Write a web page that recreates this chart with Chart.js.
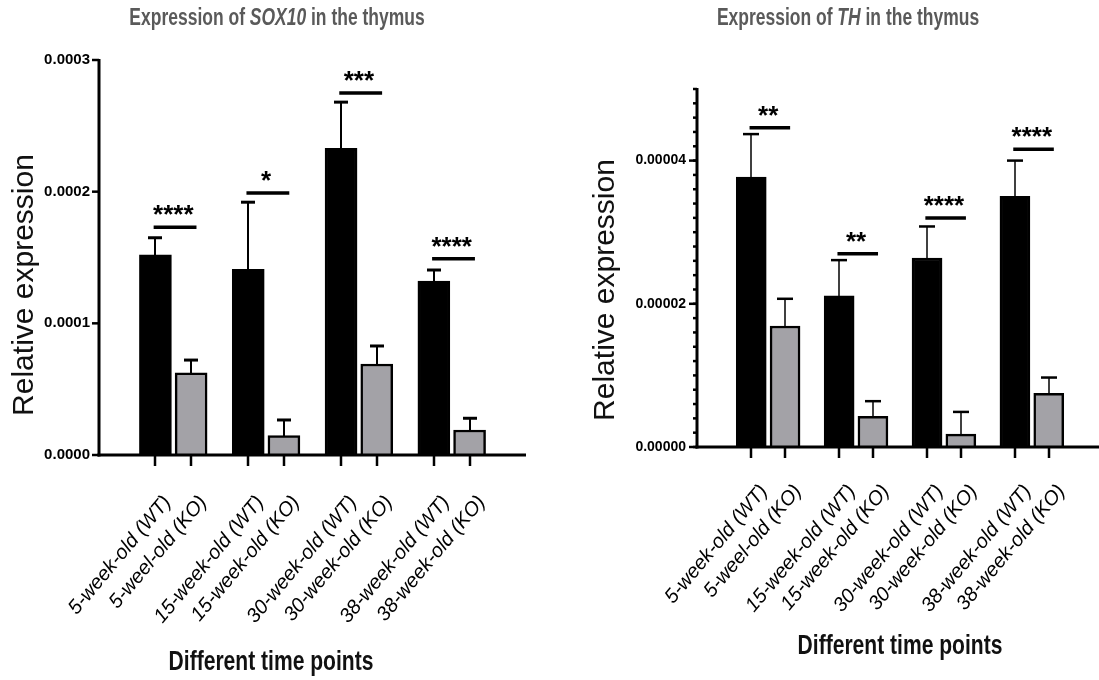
<!DOCTYPE html>
<html><head><meta charset="utf-8">
<script src="https://cdn.jsdelivr.net/npm/chart.js@4.4.1/dist/chart.umd.min.js"></script>
<style>
html,body{margin:0;padding:0;background:#fff;overflow:hidden;width:1099px;height:680px;position:relative;}
#c1{position:absolute;left:0;top:0;}
#c2{position:absolute;left:550px;top:0;}
</style></head><body>
<canvas id="c1" width="550" height="680"></canvas>
<canvas id="c2" width="560" height="680"></canvas>
<script>
// ---------- data ----------
const categories = ['5-week-old (WT)', '5-weel-old (KO)', '15-week-old (WT)', '15-week-old (KO)',
                    '30-week-old (WT)', '30-week-old (KO)', '38-week-old (WT)', '38-week-old (KO)'];

const sox10WT    = [0.000152, 0.000141, 0.000233, 0.000132];
const sox10WTerr = [0.000013, 0.000051, 0.000035, 0.0000085];
const sox10KO    = [0.0000625, 0.0000147, 0.0000691, 0.000019];
const sox10KOerr = [0.0000096, 0.0000119, 0.0000137, 0.0000089];
const sox10Sig      = ['****', '*', '***', '****'];
const sox10SigLevel = [0.000173, 0.000199, 0.000275, 0.000149];
const sox10Ticks    = [0, 0.0001, 0.0002, 0.0003];

const thWT    = [0.0000377, 0.0000211, 0.0000264, 0.000035];
const thWTerr = [0.000006, 0.000005, 0.0000044, 0.000005];
const thKO    = [0.0000169, 0.0000043, 0.0000018, 0.0000075];
const thKOerr = [0.0000038, 0.0000021, 0.0000031, 0.0000022];
const thSig      = ['**', '**', '****', '****'];
const thSigLevel = [0.0000446, 0.000027, 0.000032, 0.0000416];
const thTicks      = [0, 0.00002, 0.00004];
const thMinorTicks = [];
for (let k = 0; k <= 25; k++) thMinorTicks.push(k * 0.000002);

// ---------- layout helpers ----------
const GROUP_STEP = 2.6;
function xPos(group, member) { return group * GROUP_STEP + member; }
function tickPos(i) { return xPos(Math.floor(i / 2), i % 2); }

const FONT = '"Liberation Sans", Arial, Helvetica, sans-serif';
Chart.defaults.font.family = FONT;

function drawNarrow(ctx, parts, cx, baseline, size, color, sx, weight) {
  ctx.save();
  ctx.fillStyle = color;
  ctx.textBaseline = 'alphabetic';
  ctx.textAlign = 'left';
  let total = 0;
  const fontOf = p => (p.it ? 'italic ' : '') + weight + ' ' + size + 'px ' + FONT;
  parts.forEach(p => { ctx.font = fontOf(p); p.width = ctx.measureText(p.t).width; total += p.width; });
  ctx.translate(cx, baseline);
  ctx.scale(sx, 1);
  let x = -total / 2;
  parts.forEach(p => { ctx.font = fontOf(p); ctx.fillText(p.t, x, 0); x += p.width; });
  ctx.restore();
}

function makeDecor(d) {
  return {
    id: 'decor',
    afterDatasetsDraw(chart) {
      const ctx = chart.ctx, xs = chart.scales.x, ys = chart.scales.y, a = chart.chartArea;
      ctx.save();
      ctx.strokeStyle = '#000';
      ctx.lineCap = 'butt';
      // error bars
      [[d.wt, d.wtErr, 0], [d.ko, d.koErr, 1]].forEach(([vals, errs, m]) => {
        vals.forEach((v, g) => {
          const x = Math.round(xs.getPixelForValue(xPos(g, m)));
          const y0 = ys.getPixelForValue(v) + 1;
          const y1 = ys.getPixelForValue(v + errs[g]);
          ctx.lineWidth = d.stemW;
          ctx.beginPath(); ctx.moveTo(x, y0); ctx.lineTo(x, y1); ctx.stroke();
          ctx.lineWidth = d.capW;
          ctx.beginPath(); ctx.moveTo(x - d.capLen / 2, y1); ctx.lineTo(x + d.capLen / 2, y1); ctx.stroke();
        });
      });
      // axes
      ctx.lineWidth = 3;
      ctx.beginPath(); ctx.moveTo(a.left, a.top - 1); ctx.lineTo(a.left, a.bottom + 1.5); ctx.stroke();
      ctx.beginPath(); ctx.moveTo(a.left - 1.5, a.bottom); ctx.lineTo(a.right, a.bottom); ctx.stroke();
      // y ticks
      ctx.lineWidth = 2.5;
      if (d.minor) {
        d.minor.forEach(v => {
          const y = ys.getPixelForValue(v);
          ctx.beginPath(); ctx.moveTo(a.left - d.minorLen, y); ctx.lineTo(a.left, y); ctx.stroke();
        });
      }
      d.yTicks.forEach(v => {
        const y = ys.getPixelForValue(v);
        ctx.beginPath(); ctx.moveTo(a.left - d.majorLen, y); ctx.lineTo(a.left, y); ctx.stroke();
      });
      // x ticks
      categories.forEach((c, i) => {
        const x = Math.round(xs.getPixelForValue(tickPos(i)));
        ctx.beginPath(); ctx.moveTo(x, a.bottom); ctx.lineTo(x, a.bottom + 11); ctx.stroke();
      });
      // significance lines + stars
      d.sig.forEach((s, g) => {
        const y = ys.getPixelForValue(d.sigLevel[g]);
        const x0 = xs.getPixelForValue(xPos(g, 0) - 0.05);
        const x1 = xs.getPixelForValue(xPos(g, 1) + 0.15);
        ctx.lineWidth = 3.5;
        ctx.beginPath(); ctx.moveTo(x0, y); ctx.lineTo(x1, y); ctx.stroke();
        ctx.fillStyle = '#000';
        ctx.font = 'bold 26px ' + FONT;
        ctx.textAlign = 'center';
        ctx.textBaseline = 'alphabetic';
        const xc = (xs.getPixelForValue(xPos(g, 0)) + xs.getPixelForValue(xPos(g, 1))) / 2;
        ctx.fillText(s, xc, y - 4);
      });
      ctx.restore();
    },
    afterDraw(chart) {
      const ctx = chart.ctx;
      // chart title
      drawNarrow(ctx, d.titleParts, d.titleX, d.titleY, 23, '#5a5a5a', 0.76, 'bold');
      // x title
      drawNarrow(ctx, [{t: 'Different time points'}], d.xTitleX, d.xTitleY, 27, '#111', 0.78, 'bold');
      // y title
      ctx.save();
      ctx.translate(d.yTitleX, d.yTitleY);
      ctx.rotate(-Math.PI / 2);
      ctx.font = '30px ' + FONT;
      ctx.fillStyle = '#111';
      ctx.textAlign = 'center';
      ctx.textBaseline = 'middle';
      ctx.fillText('Relative expression', 0, 0);
      ctx.restore();
    }
  };
}

function buildChart(canvas, d) {
  return new Chart(canvas, {
    type: 'bar',
    data: {
      datasets: [
        { label: 'WT', data: d.wt.map((v, g) => ({ x: xPos(g, 0), y: v })),
          backgroundColor: '#000', borderColor: '#000', borderWidth: 2.5,
          barThickness: d.barW, grouped: false, borderSkipped: 'start' },
        { label: 'KO', data: d.ko.map((v, g) => ({ x: xPos(g, 1), y: v })),
          backgroundColor: '#a3a2a7', borderColor: '#000', borderWidth: 2.5,
          barThickness: d.barW, grouped: false, borderSkipped: 'start' }
      ]
    },
    options: {
      responsive: false, animation: false, events: [],
      layout: { padding: { top: d.area.top, left: 0, right: d.canvasW - d.area.right, bottom: 0 } },
      plugins: { legend: { display: false }, tooltip: { enabled: false }, title: { display: false } },
      scales: {
        x: {
          type: 'linear', min: d.xMin, max: d.xMax,
          grid: { display: false, drawTicks: false }, border: { display: false },
          afterBuildTicks: s => { s.ticks = categories.map((c, i) => ({ value: tickPos(i) + d.labelShift })); },
          ticks: { autoSkip: false, minRotation: 50, maxRotation: 50, padding: d.xLabelPad, color: '#000',
                   font: { size: 20, style: 'italic' }, callback: (v, i) => categories[i] },
          afterFit: s => { s.height = d.canvasH - d.area.bottom; s.paddingLeft = 0; s.paddingRight = 0; }
        },
        y: {
          type: 'linear', min: 0, max: d.yMax,
          grid: { display: false, drawTicks: false }, border: { display: false },
          afterBuildTicks: s => { s.ticks = d.yTicks.map(v => ({ value: v })); },
          ticks: { padding: d.yLabelPad, color: '#000', font: { size: d.yFont, weight: 'bold' },
                   callback: v => v.toFixed(d.dec) },
          afterFit: s => { s.width = d.area.left; s.paddingTop = 0; s.paddingBottom = 0; }
        }
      }
    },
    plugins: [makeDecor(d)]
  });
}

buildChart(document.getElementById('c1'), {
  wt: sox10WT, wtErr: sox10WTerr, ko: sox10KO, koErr: sox10KOerr,
  sig: sox10Sig, sigLevel: sox10SigLevel, yTicks: sox10Ticks, minor: null,
  yMax: 0.0003, dec: 4, yFont: 15, yLabelPad: 9, majorLen: 7, minorLen: 4,
  canvasW: 550, canvasH: 680, area: { left: 99, right: 526, top: 60, bottom: 455 },
  xMin: -0.833, xMax: 9.633, barW: 32, labelShift: 0.34, xLabelPad: 36,
  stemW: 2, capW: 3, capLen: 14,
  titleParts: [{ t: 'Expression of ' }, { t: 'SOX10', it: true }, { t: ' in the thymus' }],
  titleX: 277, titleY: 25, xTitleX: 271, xTitleY: 670, yTitleX: 25, yTitleY: 285
});

buildChart(document.getElementById('c2'), {
  wt: thWT, wtErr: thWTerr, ko: thKO, koErr: thKOerr,
  sig: thSig, sigLevel: thSigLevel, yTicks: thTicks, minor: thMinorTicks,
  yMax: 0.00005, dec: 5, yFont: 14, yLabelPad: 11, majorLen: 8, minorLen: 4,
  canvasW: 560, canvasH: 680, area: { left: 147, right: 553, top: 89, bottom: 447 },
  xMin: -0.854, xMax: 9.654, barW: 30, labelShift: 0.38, xLabelPad: 33,
  stemW: 1.5, capW: 2.5, capLen: 16,
  titleParts: [{ t: 'Expression of ' }, { t: 'TH', it: true }, { t: ' in the thymus' }],
  titleX: 298, titleY: 25, xTitleX: 350, xTitleY: 654, yTitleX: 56, yTitleY: 290
});
</script>
</body></html>
